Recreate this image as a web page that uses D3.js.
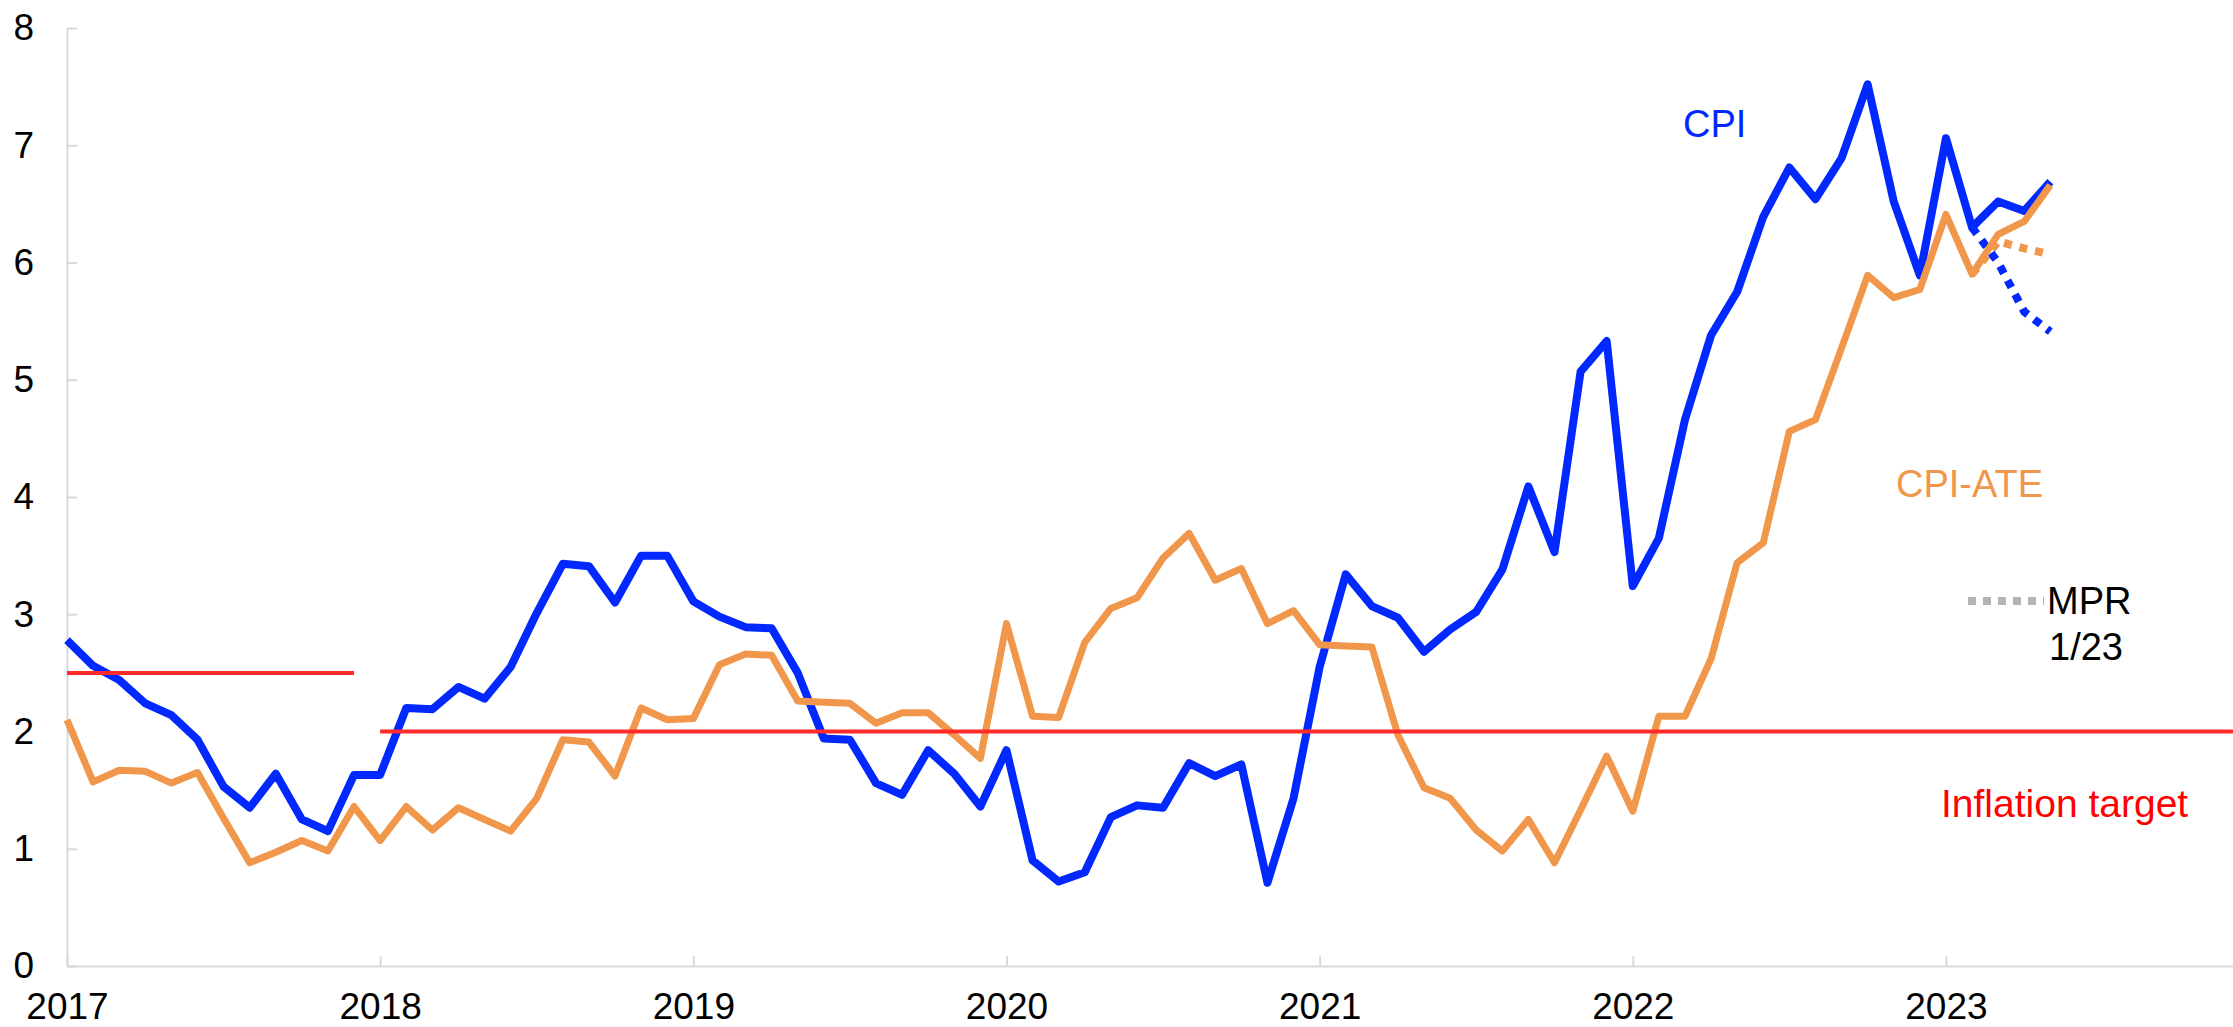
<!DOCTYPE html>
<html>
<head>
<meta charset="utf-8">
<script src="https://cdn.jsdelivr.net/npm/d3@7"></script>
<style>
body { margin: 0; background: #fff; }
text { font-family: "Liberation Sans", Arial, sans-serif; }
</style>
</head>
<body>
<div id="chart"></div>
<script>

// monthly data, index 0 = Jan 2017
var years = ["2017", "2018", "2019", "2020", "2021", "2022", "2023"];
var yTicks = [0, 1, 2, 3, 4, 5, 6, 7, 8];

var cpi = [2.78, 2.56, 2.44, 2.24, 2.14, 1.93, 1.53, 1.35, 1.64, 1.25, 1.15, 1.63,
    1.63, 2.20, 2.19, 2.38, 2.28, 2.55, 3.01, 3.43, 3.41, 3.10, 3.50, 3.50,
    3.11, 2.98, 2.89, 2.88, 2.50, 1.94, 1.93, 1.56, 1.46, 1.84, 1.64, 1.36,
    1.84, 0.90, 0.72, 0.80, 1.27, 1.37, 1.35, 1.73, 1.62, 1.72, 0.71, 1.43,
    2.55, 3.34, 3.07, 2.97, 2.68, 2.87, 3.02, 3.38, 4.09, 3.53, 5.07, 5.33,
    3.24, 3.65, 4.66, 5.38, 5.75, 6.39, 6.81, 6.54, 6.89, 7.52, 6.52, 5.89,
    7.06, 6.30, 6.52, 6.44, 6.69];

var cpiAte = [2.10, 1.57, 1.67, 1.66, 1.56, 1.65, 1.26, 0.88, 0.97, 1.07, 0.98, 1.36,
    1.07, 1.36, 1.16, 1.35, 1.25, 1.15, 1.43, 1.93, 1.91, 1.62, 2.20, 2.10,
    2.11, 2.57, 2.66, 2.65, 2.26, 2.25, 2.24, 2.07, 2.16, 2.16, 1.97, 1.77,
    2.92, 2.13, 2.12, 2.76, 3.05, 3.14, 3.48, 3.69, 3.29, 3.39, 2.92, 3.03,
    2.74, 2.73, 2.72, 1.97, 1.52, 1.43, 1.16, 0.98, 1.25, 0.88, 1.33, 1.79,
    1.32, 2.13, 2.13, 2.62, 3.44, 3.61, 4.56, 4.66, 5.27, 5.89, 5.70, 5.77,
    6.41, 5.90, 6.24, 6.35, 6.66];

// MPR 1/23 forecasts, from Feb 2023
var forecastStart = 73;
var cpiForecast = [6.30, 6.00, 5.58, 5.41];
var ateForecast = [5.90, 6.18, 6.12, 6.07];

// inflation target: 2.5 until Dec 2017, then 2
var targetValue = [2.5, 2];
var targetFrom = [0, 12];
var targetTo = [11, 83];

var blue = "#0028ff", orange = "#f0974b", red = "#ff2a2a";

var width = 2233, height = 1027;
var margin = {top: 28, left: 67, bottom: 61};

var svg = d3.select("#chart").append("svg")
    .attr("width", width)
    .attr("height", height);

var x = d3.scaleLinear().domain([0, 83]).range([margin.left, width]);
var y = d3.scaleLinear().domain([0, 8]).range([height - margin.bottom, margin.top]);

// axes
var xAxis = svg.append("g")
    .attr("transform", "translate(0," + y(0) + ")")
    .call(d3.axisBottom(x)
        .tickValues(years.map(function(d, i) { return i * 12; }))
        .tickFormat(function(d, i) { return years[i]; })
        .tickSizeInner(-10).tickSizeOuter(0).tickPadding(27));

var yAxis = svg.append("g")
    .attr("transform", "translate(" + x(0) + ",0)")
    .call(d3.axisLeft(y)
        .tickValues(yTicks)
        .tickSizeInner(-10).tickSizeOuter(0).tickPadding(33));

svg.selectAll(".domain, .tick line")
    .style("stroke", "#d9d9d9")
    .style("stroke-width", "2px");
svg.selectAll(".tick text")
    .style("font-size", "37px")
    .style("fill", "#000")
    .style("font-family", "'Liberation Sans', Arial, sans-serif");

var line = d3.line()
    .x(function(d) { return x(d.i); })
    .y(function(d) { return y(d.v); });

function toPoints(arr, start) {
    return arr.map(function(v, k) { return {i: start + k, v: v}; });
}

// forecasts (dotted, under the actual lines)
svg.append("path")
    .datum(toPoints(ateForecast, forecastStart))
    .attr("d", line)
    .style("fill", "none")
    .style("stroke", orange)
    .style("stroke-width", "8px")
    .style("stroke-dasharray", "8,8");

svg.append("path")
    .datum(toPoints(cpiForecast, forecastStart))
    .attr("d", line)
    .style("fill", "none")
    .style("stroke", blue)
    .style("stroke-width", "8px")
    .style("stroke-dasharray", "8,8");

svg.append("path")
    .datum(toPoints(cpi, 0))
    .attr("d", line)
    .style("fill", "none")
    .style("stroke", blue)
    .style("stroke-width", "8px")
    .style("stroke-linejoin", "round");

svg.append("path")
    .datum(toPoints(cpiAte, 0))
    .attr("d", line)
    .style("fill", "none")
    .style("stroke", orange)
    .style("stroke-width", "7px")
    .style("stroke-linejoin", "round");

// target lines
svg.selectAll(".target")
    .data(targetValue)
    .enter()
    .append("line")
    .attr("class", "target")
    .attr("x1", function(d, i) { return x(targetFrom[i]); })
    .attr("x2", function(d, i) { return x(targetTo[i]); })
    .attr("y1", function(d) { return y(d); })
    .attr("y2", function(d) { return y(d); })
    .style("stroke", red)
    .style("stroke-width", "4px");

// labels
function label(txt, px, py, color, size) {
    svg.append("text")
        .attr("x", px)
        .attr("y", py)
        .style("fill", color)
        .style("font-size", size + "px")
        .text(txt);
}
label("CPI", 1683, 137, blue, 38);
label("CPI-ATE", 1896, 497, orange, 38);
label("MPR", 2047, 614, "#000", 38);
label("1/23", 2049, 660, "#000", 38);
label("Inflation target", 1941, 817, "#ff0000", 39);

// legend swatch for MPR forecast
svg.append("line")
    .attr("x1", 1968).attr("x2", 2044)
    .attr("y1", 601).attr("y2", 601)
    .style("stroke", "#b4b4b4")
    .style("stroke-width", "8px")
    .style("stroke-dasharray", "8,7");

</script>
</body>
</html>
